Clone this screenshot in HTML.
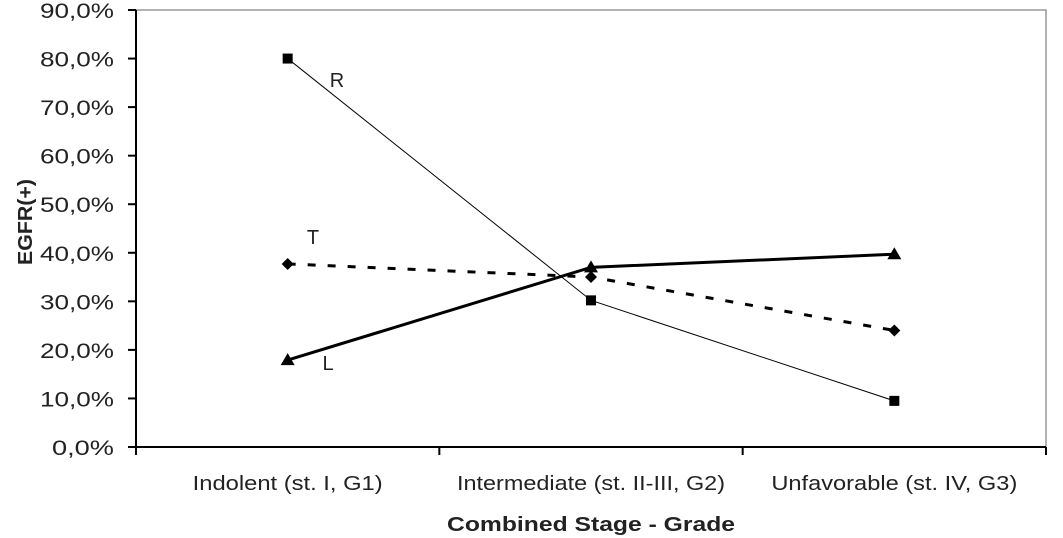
<!DOCTYPE html>
<html><head><meta charset="utf-8"><style>
html,body{margin:0;padding:0;background:#fff;}
svg{display:block;font-family:"Liberation Sans",sans-serif;}
</style></head><body>
<svg id="chart" width="1063" height="538">
</svg>
<script>
const categories=["Indolent (st. I, G1)","Intermediate (st. II-III, G2)","Unfavorable (st. IV, G3)"];
const seriesR=[80.0,30.2,9.5];
const seriesT=[37.7,35.0,24.0];
const seriesL=[17.9,37.0,39.7];
const yTicks=[0,10,20,30,40,50,60,70,80,90];
const seriesNames=["R","T","L"];
const NS="http://www.w3.org/2000/svg";
const svg=document.getElementById('chart');
const L=136,R=1046,T=10,B=447,yMax=90;
const cw=(R-L)/categories.length;
const x=i=>L+cw*(i+0.5);
const y=v=>B-(v/yMax)*(B-T);
function mk(tag,attrs){const e=document.createElementNS(NS,tag);for(const k in attrs)e.setAttribute(k,attrs[k]);svg.appendChild(e);return e;}
let e;
e=mk('rect',{x:L,y:T,width:R-L,height:B-T,fill:'#fff',stroke:'#999','stroke-width':1.5});


e=mk('line',{x1:L,y1:T,x2:L,y2:B,stroke:'#000','stroke-width':2});


e=mk('line',{x1:L,y1:B,x2:R,y2:B,stroke:'#000','stroke-width':2});


yTicks.forEach(v=>{
 const t=mk('line',{x1:L-8,y1:y(v),x2:L,y2:y(v),stroke:'#000','stroke-width':2});
 
 
 const s=v.toFixed(1).replace('.',',')+'%';
 const l=mk('text',{x:114,y:y(v)+8,'text-anchor':'end','font-size':21,fill:'#222',textLength:s.length===5?74:62,lengthAdjust:'spacingAndGlyphs'});
 l.textContent=s;
 
 
});
for(let i=0;i<=categories.length;i++){
 const t=mk('line',{x1:L+cw*i,y1:B,x2:L+cw*i,y2:B+8,stroke:'#000','stroke-width':2});
 
 
}
const catW=[190,268,246];
categories.forEach((c,i)=>{
 const l=mk('text',{x:x(i),y:490,'text-anchor':'middle','font-size':20,fill:'#222',textLength:catW[i],lengthAdjust:'spacingAndGlyphs'});
 l.textContent=c;
 
 
});
e=mk('text',{x:591,y:531,'text-anchor':'middle','font-size':20,'font-weight':'bold',fill:'#222',textLength:288,lengthAdjust:'spacingAndGlyphs'});
e.textContent='Combined Stage - Grade';


e=mk('text',{x:0,y:0,'text-anchor':'middle','font-size':20,'font-weight':'bold',fill:'#222',textLength:86,lengthAdjust:'spacingAndGlyphs',transform:'translate(32,222) rotate(-90)'});
e.textContent='EGFR(+)';


function pts(arr){return arr.map((v,i)=>x(i)+','+y(v)).join(' ');}
e=mk('polyline',{points:pts(seriesR),fill:'none',stroke:'#000','stroke-width':1});


e=mk('polyline',{points:pts(seriesT),fill:'none',stroke:'#000','stroke-width':3,'stroke-dasharray':'8,12'});


e=mk('polyline',{points:pts(seriesL),fill:'none',stroke:'#000','stroke-width':3});


seriesR.forEach((v,i)=>{
 const m=mk('rect',{x:x(i)-5,y:y(v)-5,width:10,height:10,fill:'#000'});
 
 
});
seriesT.forEach((v,i)=>{
 const cx=x(i),cy=y(v);
 const m=mk('polygon',{points:`${cx},${cy-6} ${cx+6},${cy} ${cx},${cy+6} ${cx-6},${cy}`,fill:'#000'});
 
 
});
seriesL.forEach((v,i)=>{
 const cx=x(i),cy=y(v);
 const m=mk('polygon',{points:`${cx},${cy-7} ${cx+7},${cy+5} ${cx-7},${cy+5}`,fill:'#000'});
 
 
});
const lblPos=[[337,87],[313,244],[328,370]];
seriesNames.forEach((n,i)=>{
 const l=mk('text',{x:lblPos[i][0],y:lblPos[i][1],'text-anchor':'middle','font-size':20,fill:'#222'});
 l.textContent=n;
 
 
});
</script>
</body></html>
